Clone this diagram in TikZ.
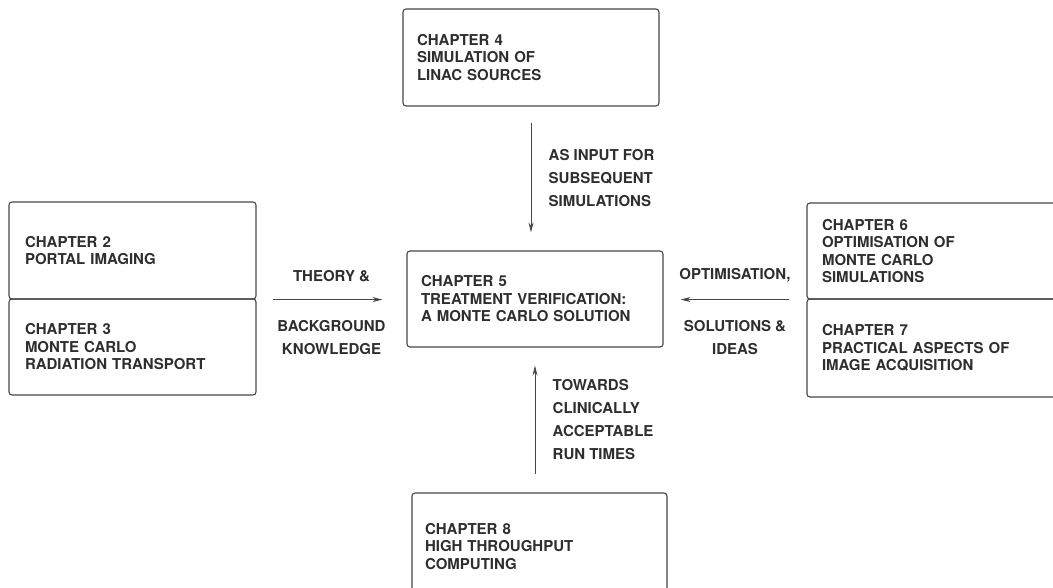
\documentclass[tikz,border=0pt]{standalone}
\usepackage{fontspec}
\setmainfont{TeX Gyre Heros}
\usetikzlibrary{positioning,arrows.meta}
\definecolor{inkgray}{HTML}{2E2E2E}
\definecolor{linegray}{HTML}{474747}
\begin{document}
\begin{tikzpicture}[x=1pt,y=-1pt,>={Stealth[length=10pt,width=5pt]},
	chap/.style={draw=linegray,line width=1.1pt,rounded corners=3pt,align=left,inner xsep=14pt,inner ysep=0pt,text=inkgray,font=\fontsize{15}{17.5}\selectfont\bfseries},
	link/.style={->,draw=linegray,line width=0.8pt},
	note/.style={text=inkgray,font=\fontsize{15}{23}\selectfont\bfseries}]
		\useasboundingbox (0,0) rectangle (1053,587);
		% chapters
		\node[chap,text width=228pt,minimum height=97pt] (ch4) at (531,57.5) {CHAPTER 4\\SIMULATION OF\\LINAC SOURCES};
		\node[chap,text width=215pt,inner xsep=16pt,minimum height=97pt] (ch2) at (132.5,250.5) {CHAPTER 2\\PORTAL IMAGING};
		\node[chap,text width=215pt,inner xsep=16pt,minimum height=96pt] (ch3) at (132.5,347) {CHAPTER 3\\MONTE CARLO\\RADIATION TRANSPORT};
		\node[chap,text width=228pt,minimum height=96pt] (ch5) at (535,299) {CHAPTER 5\\TREATMENT VERIFICATION:\\A MONTE CARLO SOLUTION};
		\node[chap,text width=223pt,inner xsep=15pt,minimum height=96pt] (ch6) at (933.5,251) {CHAPTER 6\\OPTIMISATION OF\\MONTE CARLO\\SIMULATIONS};
		\node[chap,text width=223pt,inner xsep=15pt,minimum height=98pt] (ch7) at (933.5,348) {CHAPTER 7\\PRACTICAL ASPECTS OF\\IMAGE ACQUISITION};
		\node[chap,text width=229pt,inner xsep=13pt,minimum height=107pt] (ch8) at (539.5,546.5) {CHAPTER 8\\HIGH THROUGHPUT\\COMPUTING\\[8pt]};
		% links into chapter 5
		\draw[link,shorten <=16pt,shorten >=18pt] (ch4.south) -- node[note,right=14pt,align=left] (input) {AS INPUT FOR\\SUBSEQUENT\\SIMULATIONS} (ch4.south |- ch5.north);
		\draw[link,shorten <=16pt,shorten >=24pt] (ch2.south east) -- node[note,above=14pt] (theory) {THEORY \&} node[note,below=17pt,align=center] (background) {BACKGROUND\\KNOWLEDGE} (ch2.south east -| ch5.west);
		\draw[link,shorten <=17pt,shorten >=17pt] (ch6.south west) -- node[note,above=14pt] (optim) {OPTIMISATION,} node[note,below=17pt,align=center] (ideas) {SOLUTIONS \&\\IDEAS} (ch6.south west -| ch5.east);
		\draw[link,shorten <=18pt,shorten >=18pt] (ch5.south |- ch8.north) -- node[note,right=14pt,align=left] (towards) {TOWARDS\\CLINICALLY\\ACCEPTABLE\\RUN TIMES} (ch5.south);
\end{tikzpicture}
\end{document}
